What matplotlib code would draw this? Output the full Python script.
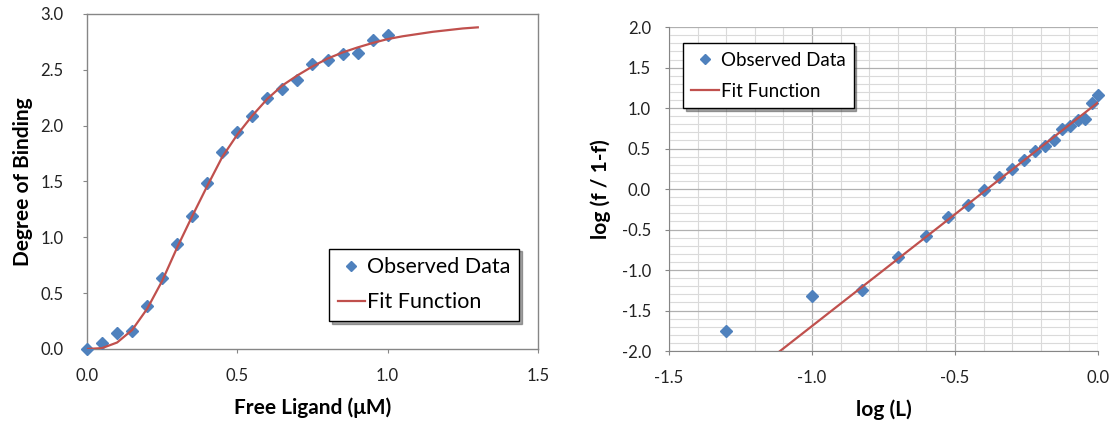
import matplotlib
matplotlib.use("Agg")
import matplotlib.pyplot as plt
from matplotlib.ticker import MultipleLocator

plt.rcParams['font.family'] = ['Lato', 'DejaVu Sans']
plt.rcParams['axes.unicode_minus'] = False

# binding data (left panel)
free_ligand = [0.0, 0.05, 0.10, 0.15, 0.20, 0.25, 0.30, 0.35, 0.40, 0.45, 0.50,
               0.55, 0.60, 0.65, 0.70, 0.75, 0.80, 0.85, 0.90, 0.95, 1.00]
binding = [0.0, 0.05, 0.14, 0.16, 0.385, 0.635, 0.94, 1.19, 1.49, 1.76, 1.94,
           2.09, 2.25, 2.33, 2.41, 2.55, 2.585, 2.64, 2.65, 2.77, 2.815]

fit_L = [0.0, 0.05, 0.10, 0.15, 0.20, 0.25, 0.30, 0.35, 0.40, 0.45, 0.50, 0.55,
         0.60, 0.65, 0.70, 0.75, 0.80, 0.85, 0.90, 0.95, 1.00, 1.05, 1.10, 1.15,
         1.20, 1.25, 1.30]
fit_B = [0.0, 0.008, 0.058, 0.17, 0.36, 0.61, 0.91, 1.19, 1.46, 1.72, 1.92, 2.09,
         2.24, 2.36, 2.45, 2.53, 2.60, 2.655, 2.70, 2.74, 2.775, 2.80, 2.82, 2.84,
         2.855, 2.87, 2.88]

# Hill plot data (right panel)
log_L = [-1.301, -1.0, -0.824, -0.699, -0.602, -0.523, -0.456, -0.398, -0.347,
         -0.301, -0.260, -0.222, -0.187, -0.155, -0.125, -0.097, -0.071, -0.046,
         -0.022, 0.0]
log_f = [-1.75, -1.325, -1.25, -0.835, -0.576, -0.35, -0.20, -0.01, 0.144, 0.25,
         0.354, 0.465, 0.535, 0.609, 0.741, 0.774, 0.856, 0.864, 1.062, 1.156]

fit_logL = [-1.3, 0.0]
fit_logf = [-2.52, 1.07]

blue = '#4F81BD'
red = '#C0504D'
axis_grey = '#868686'

fig = plt.figure(figsize=(11.16, 4.29), dpi=100)

#%% left panel
ax1 = fig.add_axes([0.078, 0.1865, 0.404, 0.781])
ax1.plot(free_ligand, binding, 'D', color=blue, ms=6.3, mec=blue,
         label='Observed Data', clip_on=False, zorder=3)
ax1.plot(fit_L, fit_B, '-', color=red, lw=1.6, label='Fit Function', zorder=4)
ax1.set_xlim(0, 1.5)
ax1.set_ylim(0, 3.0)
ax1.xaxis.set_major_locator(MultipleLocator(0.5))
ax1.yaxis.set_major_locator(MultipleLocator(0.5))
ax1.xaxis.set_major_formatter('{x:.1f}')
ax1.yaxis.set_major_formatter('{x:.1f}')
for s in ax1.spines.values():
    s.set_color(axis_grey)
    s.set_linewidth(1.0)
ax1.tick_params(direction='out', length=3, color=axis_grey, labelsize=12,
                labelcolor='#222222')
ax1.tick_params(axis='x', pad=11)
ax1.tick_params(axis='y', pad=14)
ax1.set_xlabel('Free Ligand (μM)', fontsize=15, fontweight='bold', labelpad=9)
ax1.set_ylabel('Degree of Binding', fontsize=15, fontweight='bold', labelpad=5)
leg1 = ax1.legend(loc='lower right', bbox_to_anchor=(0.958, 0.084), numpoints=1,
                  fontsize=15.5, frameon=True, fancybox=False, shadow=True,
                  framealpha=1, edgecolor='black', handlelength=1.25,
                  handletextpad=0.1, borderpad=0.4, labelspacing=0.7,
                  borderaxespad=0, markerscale=0.75)
leg1.get_frame().set_linewidth(1.0)

#%% right panel
ax2 = fig.add_axes([0.5995, 0.1818, 0.3844, 0.755])
ax2.plot(log_L, log_f, 'D', color=blue, ms=6.3, mec=blue,
         label='Observed Data', clip_on=False, zorder=3)
ax2.plot(fit_logL, fit_logf, '-', color=red, lw=1.6, label='Fit Function', zorder=4)
ax2.set_xlim(-1.5, 0.0)
ax2.set_ylim(-2.0, 2.0)
ax2.xaxis.set_major_locator(MultipleLocator(0.5))
ax2.yaxis.set_major_locator(MultipleLocator(0.5))
ax2.xaxis.set_minor_locator(MultipleLocator(0.1))
ax2.yaxis.set_minor_locator(MultipleLocator(0.1))
ax2.xaxis.set_major_formatter('{x:.1f}')
ax2.yaxis.set_major_formatter('{x:.1f}')
ax2.grid(which='major', color='#b0b0b0', lw=0.9)
ax2.grid(which='minor', color='#dadada', lw=0.8)
ax2.set_axisbelow(True)
ax2.spines['top'].set_visible(False)
ax2.spines['right'].set_visible(False)
ax2.spines['left'].set_color(axis_grey)
ax2.spines['bottom'].set_color(axis_grey)
ax2.tick_params(which='major', direction='out', length=3, color=axis_grey,
                labelsize=12, labelcolor='#222222')
ax2.tick_params(axis='x', which='major', pad=11)
ax2.tick_params(axis='y', which='major', pad=10)
ax2.tick_params(which='minor', length=0)
ax2.set_xlabel('log (L)', fontsize=15, fontweight='bold', labelpad=9)
ax2.set_ylabel('log (f / 1-f)', fontsize=15, fontweight='bold', labelpad=8)
leg2 = ax2.legend(loc='upper left', bbox_to_anchor=(0.0326, 0.9506), numpoints=1,
                  fontsize=13.5, frameon=True, fancybox=False, shadow=True,
                  framealpha=1, edgecolor='black', handlelength=1.45,
                  handletextpad=0.1, borderpad=0.45, labelspacing=0.75,
                  borderaxespad=0, markerscale=0.75)
leg2.get_frame().set_linewidth(1.0)

fig.savefig('out.png', dpi=100)
